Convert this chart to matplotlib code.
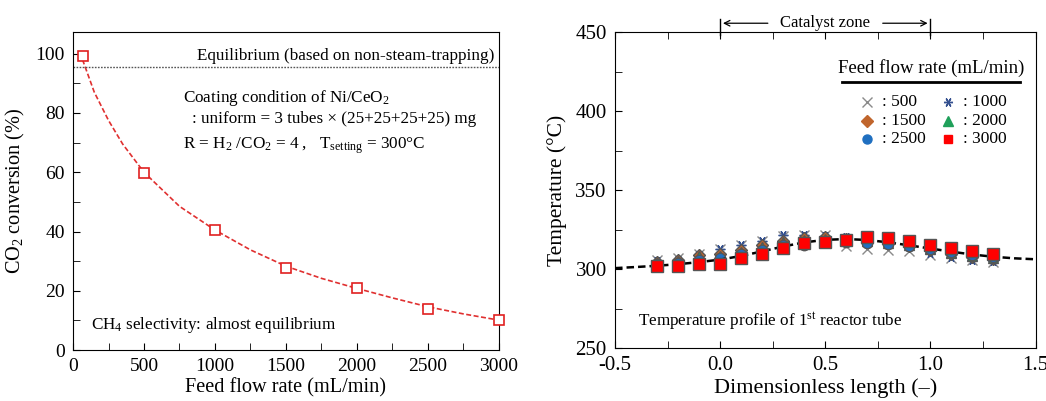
import numpy as np
import matplotlib
matplotlib.use("Agg")
import matplotlib.pyplot as plt
from matplotlib.ticker import MultipleLocator, FormatStrFormatter

plt.rcParams['font.family'] = ['Liberation Serif', 'DejaVu Serif']
plt.rcParams['mathtext.fontset'] = 'custom'
plt.rcParams['mathtext.rm'] = 'Liberation Serif'
plt.rcParams['mathtext.it'] = 'Liberation Serif:italic'
plt.rcParams['axes.unicode_minus'] = False

# --- left panel: CO2 conversion vs feed flow rate ---
flow = [67, 500, 1000, 1500, 2000, 2500, 3000]
conv = [99.2, 59.8, 40.4, 27.7, 21.0, 14.0, 10.1]
fit_flow = [67, 150, 250, 350, 500, 750, 1000, 1250, 1500, 1750, 2000, 2250, 2500, 2750, 3000]
fit_conv = [98.0, 87.0, 77.5, 69.5, 60.0, 48.5, 40.5, 33.8, 28.3, 24.2, 20.8, 17.6, 14.6, 12.2, 10.1]
equilibrium = 95.6

# --- right panel: temperature profile ---
pos = [-0.3, -0.2, -0.1, 0.0, 0.1, 0.2, 0.3, 0.4, 0.5, 0.6, 0.7, 0.8, 0.9, 1.0, 1.1, 1.2, 1.3]
t500 = [305.6, 306.7, 309.8, 313.0, 315.0, 318.0, 321.0, 321.5, 321.5, 314.5, 313.0, 312.0, 311.5, 309.0, 307.0, 305.6, 304.5]
t1000 = [305.0, 306.0, 309.0, 312.5, 315.5, 317.5, 321.5, 321.5, 321.0, 320.0, 318.0, 316.0, 314.0, 310.0, 307.5, 306.0, 305.0]
t1500 = [304.5, 305.5, 309.0, 309.5, 312.0, 315.0, 318.0, 319.5, 320.0, 319.0, 318.0, 316.5, 314.5, 312.0, 309.5, 307.5, 306.5]
t2000 = [304.0, 305.0, 308.0, 308.5, 311.0, 314.0, 317.0, 318.5, 319.0, 318.5, 317.5, 316.5, 315.0, 312.5, 310.0, 308.5, 307.0]
t2500 = [303.0, 304.0, 306.0, 307.0, 309.5, 312.0, 315.0, 315.5, 317.0, 317.0, 316.5, 316.0, 314.5, 312.5, 310.5, 309.0, 307.5]
t3000 = [301.8, 302.2, 303.5, 303.5, 306.7, 309.4, 313.4, 316.2, 317.2, 318.7, 320.4, 319.8, 317.9, 315.5, 313.4, 311.5, 309.8]
fit_pos = [-0.5, -0.4, -0.3, -0.2, -0.1, 0.0, 0.1, 0.2, 0.3, 0.4, 0.5, 0.6, 0.7, 0.8, 0.9, 1.0, 1.1, 1.2, 1.3, 1.4, 1.5]
fit_temp = [300.6, 301.3, 302.1, 303.1, 304.4, 306.0, 308.3, 311.2, 314.3, 316.9, 318.5, 319.0, 318.4, 316.9, 315.0, 313.0, 311.0, 309.2, 307.8, 306.8, 306.2]

labels = [': 500', ': 1000', ': 1500', ': 2000', ': 2500', ': 3000']
series = [t500, t1000, t1500, t2000, t2500, t3000]
markers = ['x', (6, 2, 90), 'D', '^', 'o', 's']
face = ['#8a8a8a', '#34508f', '#c0652c', '#1fa05a', '#1f6fc0', '#ff0000']
edge = ['#8a8a8a', '#34508f', '#555555', '#555555', '#555555', '#555555']
msize = [6.5, 7, 6.5, 7, 7.5, 9]
lsize = [6.5, 6.5, 6, 6.5, 6.5, 6]

fig = plt.figure(figsize=(10.46, 4.01), dpi=100)
ax1 = fig.add_axes([0.0698, 0.127, 0.4072, 0.793])
ax2 = fig.add_axes([0.588, 0.132, 0.402, 0.788])

# left
ax1.plot(fit_flow, fit_conv, color='#e03030', ls=(0, (3, 1.5)), lw=1.2, zorder=2)
ax1.plot(flow, conv, ls='none', marker='s', ms=7, mfc='white', mec='#e02020', mew=1.2, zorder=3,
         clip_on=False)
ax1.axhline(equilibrium, color='#555555', ls=(0, (1.2, 1.0)), lw=1.0)
ax1.set_xlim(0, 3000)
ax1.set_ylim(0, 107.3)
ax1.xaxis.set_major_locator(MultipleLocator(500))
ax1.xaxis.set_minor_locator(MultipleLocator(250))
ax1.yaxis.set_major_locator(MultipleLocator(20))
ax1.yaxis.set_minor_locator(MultipleLocator(10))
ax1.tick_params(which='both', direction='in', labelsize=14, length=5)
ax1.tick_params(axis='x', pad=6)
ax1.tick_params(axis='y', pad=6)
ax1.set_xlabel('Feed flow rate (mL/min)', fontsize=14.6, labelpad=2)
ax1.set_ylabel('CO$_2$ conversion (%)', fontsize=14.6, labelpad=6)
ax1.text(2970, 99.3, 'Equilibrium (based on non-steam-trapping)', fontsize=12.3, ha='right', va='center')
ax1.text(772, 84.9, 'Coating condition of Ni/CeO$_2$', fontsize=12.3, va='center')
ax1.text(836, 78.1, ': uniform = 3 tubes \u00d7 (25+25+25+25) mg', fontsize=12.3, va='center')
ax1.text(772, 68.9, 'R = H$_2$ /CO$_2$ = 4 ,   T$_{\\mathrm{setting}}$ = 300\u00b0C', fontsize=12.3, va='center')
ax1.text(124, 8.4, 'CH$_4$ selectivity: almost equilibrium', fontsize=12.3, va='center')

# right
for i in range(len(series)):
    z = 4 if i < 5 else 6
    ax2.plot(pos, series[i], ls='none', marker=markers[i], ms=msize[i], mfc=face[i], mec=edge[i],
             mew=1.0, zorder=z)
ax2.plot(fit_pos, fit_temp, color='black', ls=(0, (3, 1.6)), lw=1.8, zorder=5)
ax2.set_xlim(-0.5, 1.5)
ax2.set_ylim(250, 450)
ax2.xaxis.set_major_locator(MultipleLocator(0.5))
ax2.xaxis.set_minor_locator(MultipleLocator(0.25))
ax2.xaxis.set_major_formatter(FormatStrFormatter('%.1f'))
ax2.yaxis.set_major_locator(MultipleLocator(50))
ax2.yaxis.set_minor_locator(MultipleLocator(25))
ax2.tick_params(which='both', direction='in', labelsize=15, length=5, top=True)
ax2.tick_params(axis='x', pad=6)
ax2.tick_params(axis='y', pad=6)
ax2.set_xlabel('Dimensionless length (\u2013)', fontsize=16, labelpad=2)
ax2.set_ylabel('Temperature (\u00b0C)', fontsize=15.5, labelpad=6)
ax2.text(-0.389, 267.3, 'Temperature profile of 1$^{\\mathrm{st}}$ reactor tube', fontsize=12.3, va='center')

# catalyst zone marker above the axes
tr = ax2.get_xaxis_transform()
for xb in [0.0, 1.0]:
    ax2.plot([xb, xb], [0.99, 1.04], color='black', lw=1.0, transform=tr, clip_on=False)
ax2.annotate('', xy=(0.0, 1.028), xytext=(0.24, 1.028), xycoords=tr, textcoords=tr,
             arrowprops=dict(arrowstyle='->', color='black', lw=0.9))
ax2.annotate('', xy=(1.0, 1.028), xytext=(0.76, 1.028), xycoords=tr, textcoords=tr,
             arrowprops=dict(arrowstyle='->', color='black', lw=0.9))
ax2.text(0.5, 1.028, 'Catalyst zone', transform=tr, ha='center', va='center', fontsize=12)

# legend drawn by hand
ax2.text(0.751, 0.886, 'Feed flow rate (mL/min)', transform=ax2.transAxes, ha='center', va='center', fontsize=13.5)
ax2.plot([0.539, 0.962], [0.842, 0.842], color='black', lw=2, transform=ax2.transAxes)
leg_x = [0.599, 0.791, 0.599, 0.791, 0.599, 0.791]
leg_y = [0.778, 0.778, 0.718, 0.718, 0.661, 0.661]
for i in range(len(series)):
    ax2.plot([leg_x[i]], [leg_y[i]], ls='none', marker=markers[i], ms=lsize[i],
             mfc=face[i], mec=face[i], mew=1.0, transform=ax2.transAxes)
    ax2.text(leg_x[i] + 0.036, leg_y[i], labels[i], transform=ax2.transAxes, va='center', fontsize=12.5)

fig.savefig('out.png', dpi=100)
